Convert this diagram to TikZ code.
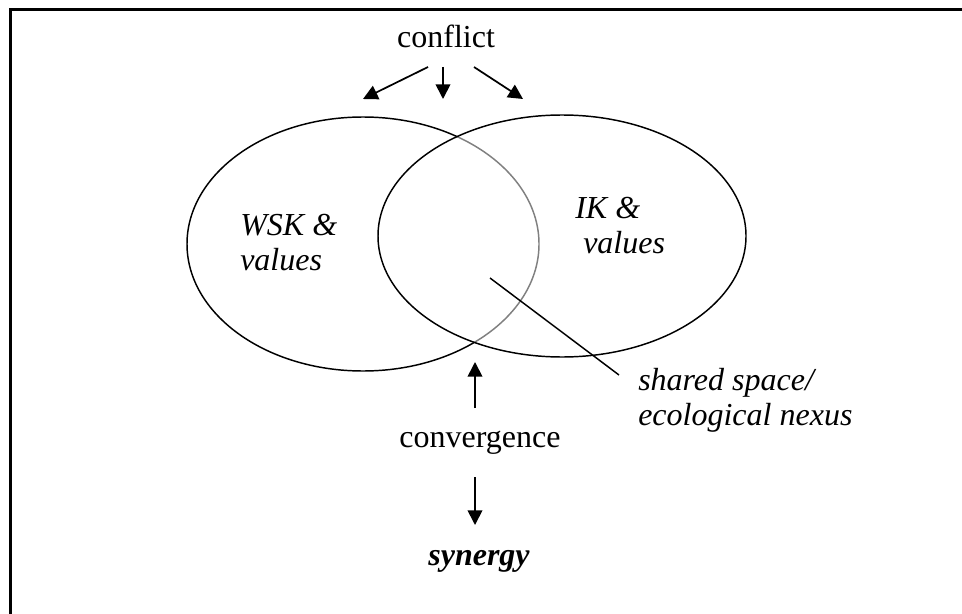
\documentclass[tikz,border=0pt]{standalone}
\usepackage{fontspec}
\setmainfont{Liberation Serif}
\usetikzlibrary{arrows.meta}
\begin{document}
\begin{tikzpicture}[x=0.75pt,y=-0.75pt,
  lbl/.style={font=\fontsize{24}{26}\selectfont, inner sep=0pt, align=left},
  arr/.style={line width=1.3pt, -{Triangle[length=11pt,width=11pt]}},
  ring/.style={line width=1.1pt}]
\useasboundingbox (0,0) rectangle (962,613);
\draw[line width=1.6pt] (10.5,9.5) rectangle (990,640);
% ellipses
\coordinate (cL) at (363,244);
\coordinate (cR) at (562,236);
\draw[ring] (cL) ellipse [x radius=176, y radius=127];
\begin{scope}
  \clip (cR) ellipse [x radius=183.5, y radius=120.5];
  \draw[white, line width=2.8pt] (cL) ellipse [x radius=176, y radius=127];
  \draw[ring, black!50] (cL) ellipse [x radius=176, y radius=127];
\end{scope}
\draw[ring] (cR) ellipse [x radius=184, y radius=121];
% texts
\node[lbl, anchor=base] (conflict) at (446,48) {conflict};
\node[lbl, anchor=base west] (wsk) at (240,270) {\itshape WSK \&\\\itshape values};
\node[lbl, anchor=base west] (ik) at (575,253) {\itshape IK \&\\\itshape \ values};
\node[lbl, anchor=base west] (shared) at (638,425) {\itshape shared space/\\\itshape ecological nexus};
\node[lbl, anchor=base] (conv) at (480,447) {convergence};
\node[lbl, anchor=base] (syn) at (479,565) {\bfseries\itshape synergy};
% arrows from conflict
\coordinate (s1) at (428,67); \coordinate (t1) at (363,99);
\coordinate (s2) at (443,67); \coordinate (t2) at (443,99);
\coordinate (s3) at (474,67); \coordinate (t3) at (523,99);
\draw[arr] (s1) -- (t1);
\draw[arr] (s2) -- (t2);
\draw[arr] (s3) -- (t3);
% convergence arrows
\coordinate (u1) at (475,408); \coordinate (u2) at (475,362);
\draw[arr] (u1) -- (u2);
\coordinate (d1) at (475,477); \coordinate (d2) at (475,525);
\draw[arr] (d1) -- (d2);
% leader line
\coordinate (nexus) at (490,278);
\coordinate (lead) at (619,375);
\draw[ring] (nexus) -- (lead);
\end{tikzpicture}
\end{document}
